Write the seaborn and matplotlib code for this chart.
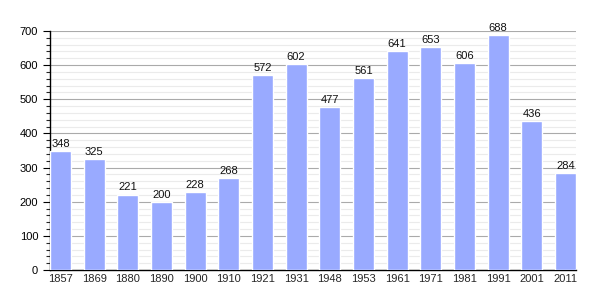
import matplotlib
matplotlib.use("Agg")
import matplotlib.pyplot as plt
import seaborn as sns
import pandas as pd
from matplotlib.ticker import MultipleLocator

years = ["1857", "1869", "1880", "1890", "1900", "1910", "1921", "1931", "1948",
         "1953", "1961", "1971", "1981", "1991", "2001", "2011"]
population = [348, 325, 221, 200, 228, 268, 572, 602, 477, 561, 641, 653, 606, 688, 436, 284]

df = pd.DataFrame({"year": years, "pop": population})

sns.set_style("white")
plt.rcParams['font.family'] = ['Liberation Sans', 'DejaVu Sans']

fig = plt.figure(figsize=(6.05, 3.0), dpi=100)
ax = fig.add_axes([50/605, 30/300, 526/605, 239/300])

sns.barplot(data=df, x="year", y="pop", color="#99aaff", saturation=1, width=0.62, ax=ax, zorder=3)

for i, v in enumerate(population):
    ax.text(i, v + 6, str(v), ha="center", va="bottom", fontsize=8, color="#111111", zorder=4)

ax.set_ylim(0, 700)
ax.set_xlim(-0.31, 15.31)
ax.yaxis.set_major_locator(MultipleLocator(100))
ax.yaxis.set_minor_locator(MultipleLocator(20))
ax.grid(which="major", axis="y", color="#aaaaaa", linewidth=0.8, zorder=0)
ax.grid(which="minor", axis="y", color="#ebebeb", linewidth=0.8, zorder=0)
ax.set_axisbelow(True)
ax.set_xlabel("")
ax.set_ylabel("")
for s in ["top", "right"]:
    ax.spines[s].set_visible(False)
ax.spines["left"].set_color("black")
ax.spines["bottom"].set_color("black")
ax.spines["left"].set_linewidth(1)
ax.spines["bottom"].set_linewidth(1)
ax.tick_params(axis="y", which="major", length=5, width=0.8, labelsize=8, direction="out", left=True, colors="black")
ax.tick_params(axis="y", which="minor", length=3, width=0.8, direction="out", left=True)
ax.tick_params(axis="x", length=0, labelsize=8, pad=3)

fig.savefig("out.png", dpi=100)
